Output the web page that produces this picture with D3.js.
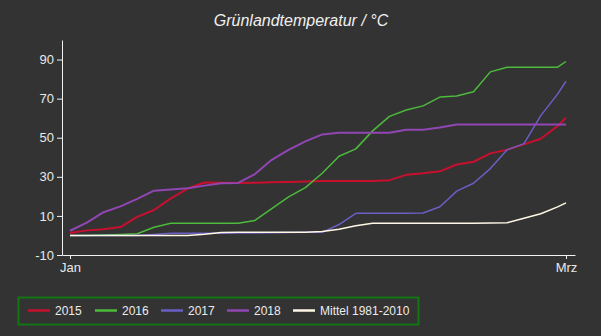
<!DOCTYPE html>
<html>
<head>
<meta charset="utf-8">
<script src="https://cdn.jsdelivr.net/npm/d3@7"></script>
<style>
  html, body { margin: 0; padding: 0; background: #333333; }
  svg { display: block; }
  text { font-family: "Liberation Sans", Arial, sans-serif; }
</style>
</head>
<body>
<svg id="chart" width="601" height="336"></svg>
<script>
// Day index since 1 January (0 = 1 Jan, 59 = 1 March)
const days = [0, 2, 4, 6, 8, 10, 12, 14, 16, 18, 20, 22, 24, 26, 28, 30,
              32, 34, 36, 38, 40, 42, 44, 46, 48, 50, 52, 54, 56, 58, 59];

// Cumulative grassland temperature sum (°C)
const v2015 = [1.3, 2.6, 3.2, 4.3, 9.5, 13.0, 19.0, 24.0, 27.1, 27.0, 26.9, 27.0, 27.2, 27.4, 27.6, 27.8,
               27.8, 27.8, 27.9, 28.3, 31.0, 31.8, 32.8, 36.3, 37.7, 42.0, 43.9, 46.6, 49.5, 56.0, 60.3];
const v2016 = [0, 0, 0.2, 0.5, 0.9, 4.2, 6.2, 6.2, 6.2, 6.2, 6.2, 7.7, 13.7, 19.7, 24.5, 31.8,
               40.5, 44.3, 53.5, 60.9, 64.2, 66.3, 70.8, 71.4, 73.5, 83.7, 86.1, 86.1, 86.1, 86.1, 89.0];
const v2017 = [0, 0, 0, 0, 0, 0.5, 1.1, 1.1, 1.1, 1.1, 1.2, 1.3, 1.4, 1.5, 1.6, 1.6,
               5.6, 11.3, 11.3, 11.3, 11.3, 11.5, 14.7, 22.7, 26.7, 34.2, 43.8, 47.0, 61.3, 72.3, 78.9];
const v2018 = [2.4, 6.6, 11.9, 14.9, 18.7, 22.9, 23.5, 24.2, 25.5, 26.7, 26.9, 31.4, 38.7, 43.8, 48.1, 51.7,
               52.6, 52.6, 52.6, 52.6, 54.1, 54.1, 55.2, 56.8, 56.8, 56.8, 56.8, 56.8, 56.8, 56.8, 56.8];
const vMittel = [0, 0, 0, 0, 0, 0, 0, 0, 0.6, 1.5, 1.7, 1.7, 1.7, 1.7, 1.7, 2.0,
                 3.2, 5.0, 6.2, 6.2, 6.2, 6.2, 6.2, 6.2, 6.2, 6.4, 6.5, 8.8, 11.1, 14.6, 16.7];

const seriesNames = ["2015", "2016", "2017", "2018", "Mittel 1981-2010"];
const seriesColors = ["#c8102e", "#4cbb3c", "#6a5fc4", "#9146b4", "#fff8e6"];
const seriesWidths = [2, 1.5, 1.5, 2, 1.5];
const seriesValues = [v2015, v2016, v2017, v2018, vMittel];

const yTicks = [-10, 10, 30, 50, 70, 90];
const xTickDays = [0, 59];
const xTickLabels = ["Jan", "Mrz"];

const svg = d3.select("#chart");

const x = d3.scaleLinear().domain([-0.95, 60.07]).range([62, 575]);
const y = d3.scaleLinear().domain([-10, 100]).range([255, 40]);

// Title
svg.append("text")
  .attr("x", 301).attr("y", 26)
  .attr("text-anchor", "middle")
  .attr("font-size", 16)
  .attr("font-style", "italic")
  .attr("fill", "#f0f0f0")
  .text("Grünlandtemperatur / °C");

// Axes
const axisColor = "#f2f2f2";
const yAxis = svg.append("g")
  .attr("transform", "translate(62,0)")
  .call(d3.axisLeft(y).tickValues(yTicks).tickFormat(d => String(d))
    .tickSize(5).tickSizeOuter(0).tickPadding(3));
const xAxis = svg.append("g")
  .attr("transform", "translate(0,255)")
  .call(d3.axisBottom(x).tickValues(xTickDays)
    .tickFormat((d, i) => xTickLabels[i]).tickSize(4).tickSizeOuter(0).tickPadding(4));

[yAxis, xAxis].forEach(g => {
  g.select(".domain").attr("stroke", axisColor);
  g.selectAll(".tick line").attr("stroke", axisColor);
  g.selectAll(".tick text")
    .attr("fill", "#e8e8e8")
    .attr("font-size", 13)
    .attr("font-family", "'Liberation Sans', Arial, sans-serif");
});

// Series lines
const line = d3.line()
  .x((d, i) => x(days[i]))
  .y(d => y(d));

svg.append("g")
  .selectAll("path")
  .data(seriesValues)
  .join("path")
  .attr("d", d => line(d))
  .attr("fill", "none")
  .attr("stroke", (d, i) => seriesColors[i])
  .attr("stroke-width", (d, i) => seriesWidths[i])
  .attr("stroke-linejoin", "round");

// Legend
const legend = svg.append("g");
legend.append("rect")
  .attr("x", 18.5).attr("y", 297.5)
  .attr("width", 400).attr("height", 27)
  .attr("fill", "none")
  .attr("stroke", "#137513")
  .attr("stroke-width", 2);

const legendX = [28, 95, 161, 227, 293];
const item = legend.selectAll("g.item")
  .data(seriesNames)
  .join("g")
  .attr("class", "item")
  .attr("transform", (d, i) => `translate(${legendX[i]},310.5)`);
item.append("line")
  .attr("x1", 0).attr("x2", 22)
  .attr("stroke", (d, i) => seriesColors[i])
  .attr("stroke-width", 2.5);
item.append("text")
  .attr("x", 27).attr("dy", "0.35em")
  .attr("font-size", 12)
  .attr("fill", "#ececec")
  .text(d => d);
</script>
</body>
</html>
